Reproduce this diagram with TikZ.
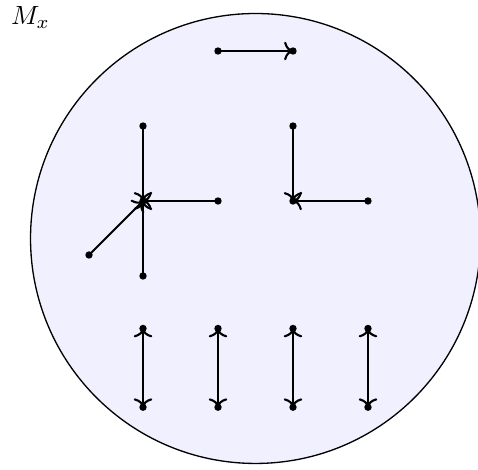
\documentclass[tikz,border=0pt]{standalone}
\usepackage{amsmath,amssymb}
\usetikzlibrary{arrows.meta,calc}
\tikzset{
  e/.style={->,thick},
  every picture/.style={line width=0.5pt},
}
\begin{document}
\begin{tikzpicture}
\useasboundingbox (-1.907,-3.587) rectangle (4.467,2.68);
\draw[fill=blue!6] (1.5,-0.5) circle (3);
\node (Mx) at (-1.5,2.45) {$M_x$};
\coordinate (t1) at (1,2); \coordinate (t2) at (2,2);
\coordinate (a0) at (0,0); \coordinate (a1) at (0,1); \coordinate (a2) at (1,0);
\coordinate (a3) at (0,-1); \coordinate (a4) at (-0.72,-0.72);
\coordinate (b0) at (2,0); \coordinate (b1) at (2,1); \coordinate (b2) at (3,0);
\draw[e] (t1)--(t2);
\draw[e] (a1)--(a0); \draw[e] (a2)--(a0); \draw[e] (a3)--(a0); \draw[e] (a4)--(a0);
\draw[e] (b1)--(b0); \draw[e] (b2)--(b0);
\foreach \x in {0,1,2,3}{
  \coordinate (u\x) at (\x,-1.7); \coordinate (l\x) at (\x,-2.75);
  \draw[e,<->] (u\x)--(l\x);
}
\foreach \p in {t1,t2,a0,a1,a2,a3,a4,b0,b1,b2,u0,u1,u2,u3,l0,l1,l2,l3}
  \fill (\p) circle (1.4pt);
\end{tikzpicture}
\end{document}
